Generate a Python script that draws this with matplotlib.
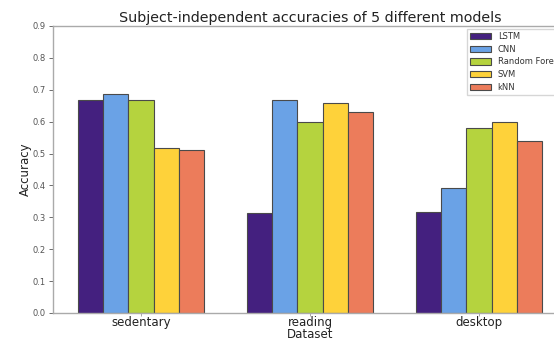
import matplotlib
matplotlib.use("Agg")
import matplotlib.pyplot as plt
import numpy as np

categories = ["sedentary", "reading", "desktop"]
models = ["LSTM", "CNN", "Random Forest", "SVM", "kNN"]
lstm = [0.667, 0.315, 0.318]
cnn = [0.686, 0.667, 0.393]
rf = [0.669, 0.599, 0.579]
svm = [0.518, 0.659, 0.598]
knn = [0.510, 0.629, 0.539]
series = [lstm, cnn, rf, svm, knn]
colors = ["#44207f", "#6aa2e6", "#b5d33e", "#fed23a", "#ec7c5b"]
yticks = [0.0, 0.1, 0.2, 0.3, 0.4, 0.5, 0.6, 0.7, 0.8, 0.9]

fig = plt.figure(figsize=(5.54, 3.44), dpi=100)
ax = fig.add_axes([53/554, 1-313/344, (567-53)/554, (313-26)/344])

x = np.arange(len(categories))
w = 0.15
for i, (vals, c, name) in enumerate(zip(series, colors, models)):
    ax.bar(x + (i - 2) * w, vals, w, color=c, edgecolor="#4a4a4a", linewidth=0.8, label=name)

ax.set_xlim(-0.52, 2.52)
ax.set_ylim(0, 0.9)
ax.set_yticks(yticks)
ax.set_yticklabels([f"{t:.1f}" for t in yticks])
ax.set_xticks(x)
ax.set_xticklabels(categories, fontsize=8.5, color="#222222")
ax.tick_params(axis="y", labelsize=6, colors="#555555", length=3, width=0.6, pad=2)
ax.tick_params(axis="x", length=2, width=0.6, colors="#999999", labelcolor="#222222", pad=0.5)
for s in ax.spines.values():
    s.set_color("#aaaaaa")
    s.set_linewidth(1.0)
ax.set_xlabel("Dataset", fontsize=8.5, labelpad=-1, color="#222222")
ax.set_ylabel("Accuracy", fontsize=8.5, labelpad=0.5, color="#222222")
ax.set_title("Subject-independent accuracies of 5 different models", fontsize=10.3, pad=3, color="#222222")
leg = ax.legend(loc="upper right", fontsize=6, frameon=True, handlelength=2.5, handleheight=0.8,
                labelspacing=0.45, borderaxespad=0.3, fancybox=False)
leg.get_frame().set_edgecolor("#cccccc")
for t in leg.get_texts():
    t.set_color("#333333")

fig.savefig("out.png", dpi=100)
